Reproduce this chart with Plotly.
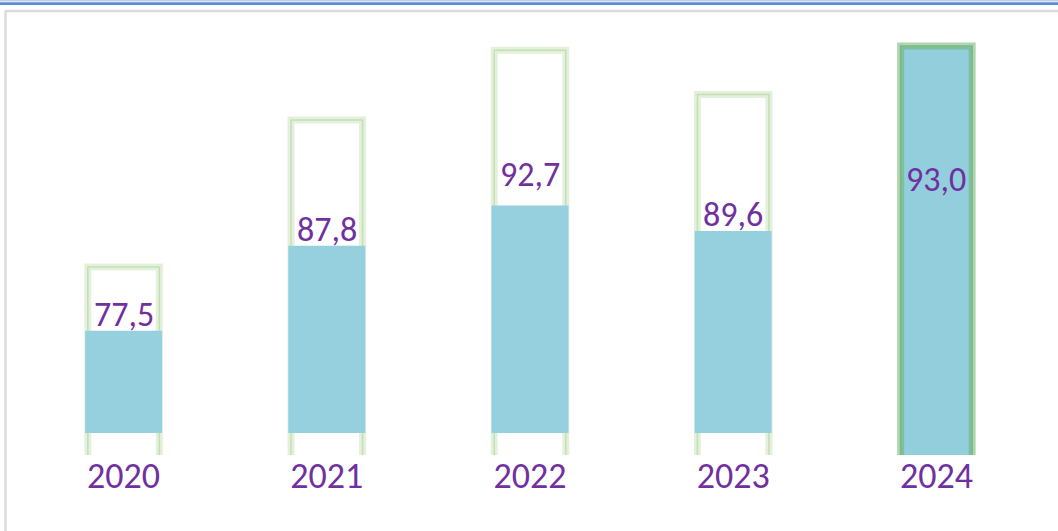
import plotly.graph_objects as go

# ---- data ----
years = ["2020", "2021", "2022", "2023", "2024"]
values = [77.5, 87.8, 92.7, 89.6, 93.0]
value_labels = ["77,5", "87,8", "92,7", "89,6", "93,0"]

# ---- style ----
W, H = 1058, 531
ML, MR, MT, MB = 22, 20, 41, 76
PURPLE = "#7030A0"
BLUE = "#96D0DE"
FONT = "Carlito, Noto Sans, sans-serif"
LABEL_SHIFT = [16, 16, 31, 16, 23]
BAR_W = 0.379
OUTER_W = 0.352

outer_fill = ["white", "white", "white", "white", "#93CEDC"]
glow_soft = ["rgba(200,228,185,0.5)"] * 4 + ["rgba(110,178,112,0.55)"]
glow_edge = ["rgba(185,218,165,0.75)"] * 4 + ["#7DB97F"]
inner_fill = [BLUE, BLUE, BLUE, BLUE, "rgba(0,0,0,0)"]

plot_w = W - ML - MR
plot_h = H - MT - MB


def px_x(p):
    return (p - ML) / plot_w


def px_y(p):
    return (H - MB - p) / plot_h


fig = go.Figure()

# outer "glow" bars (same values on a stretched axis)
fig.add_trace(go.Bar(x=years, y=values, width=OUTER_W, xaxis="x", yaxis="y",
                     marker=dict(color=outer_fill, line=dict(color=glow_soft, width=7)),
                     hoverinfo="skip", showlegend=False))
fig.add_trace(go.Bar(x=years, y=values, width=OUTER_W, xaxis="x", yaxis="y",
                     marker=dict(color="rgba(0,0,0,0)", line=dict(color=glow_edge, width=1.5)),
                     hoverinfo="skip", showlegend=False))

# inner value bars
fig.add_trace(go.Bar(x=years, y=values, width=BAR_W, xaxis="x2", yaxis="y2",
                     marker=dict(color=inner_fill, line=dict(width=0)),
                     showlegend=False))

annotations = [
    dict(x=i, y=v, xref="x2", yref="y2", text=t, showarrow=False,
         yshift=s, font=dict(family=FONT, size=34, color=PURPLE))
    for i, (v, t, s) in enumerate(zip(values, value_labels, LABEL_SHIFT))
]

shapes = [
    # top blue rules
    dict(type="line", xref="paper", yref="paper", x0=px_x(0), x1=px_x(W),
         y0=px_y(0.8), y1=px_y(0.8), line=dict(color="#B8CCEE", width=1.6)),
    dict(type="line", xref="paper", yref="paper", x0=px_x(0), x1=px_x(W),
         y0=px_y(3.6), y1=px_y(3.6), line=dict(color="#5F8BD2", width=2.6)),
    # gray frame
    dict(type="line", xref="paper", yref="paper", x0=px_x(5), x1=px_x(W),
         y0=px_y(11), y1=px_y(11), line=dict(color="#DCDCDC", width=2.5)),
    dict(type="line", xref="paper", yref="paper", x0=px_x(5.5), x1=px_x(5.5),
         y0=px_y(11), y1=px_y(H), line=dict(color="#DCDCDC", width=2.5)),
]

fig.update_layout(
    width=W, height=H,
    margin=dict(l=ML, r=MR, t=MT, b=MB, autoexpand=False),
    paper_bgcolor="white", plot_bgcolor="rgba(0,0,0,0)",
    barmode="overlay",
    xaxis=dict(type="category", range=[-0.5, len(years) - 0.5], domain=[0, 1],
               anchor="y", showgrid=False, zeroline=False, showline=False,
               ticks="", ticklabelstandoff=-4,
               tickfont=dict(family=FONT, size=36, color=PURPLE)),
    yaxis=dict(domain=[0, 1], range=[64.3, 93.35], visible=False),
    xaxis2=dict(type="category", range=[-0.5, len(years) - 0.5], domain=[0, 1],
                anchor="y2", matches="x", visible=False),
    yaxis2=dict(domain=[22 / plot_h, 1], range=[65.09, 112.65], visible=False),
    annotations=annotations,
    shapes=shapes,
)

fig.write_html("out.html",
               config={"displayModeBar": False},
               post_script="document.body.style.margin='0';"
                           "document.body.style.overflow='hidden';")
